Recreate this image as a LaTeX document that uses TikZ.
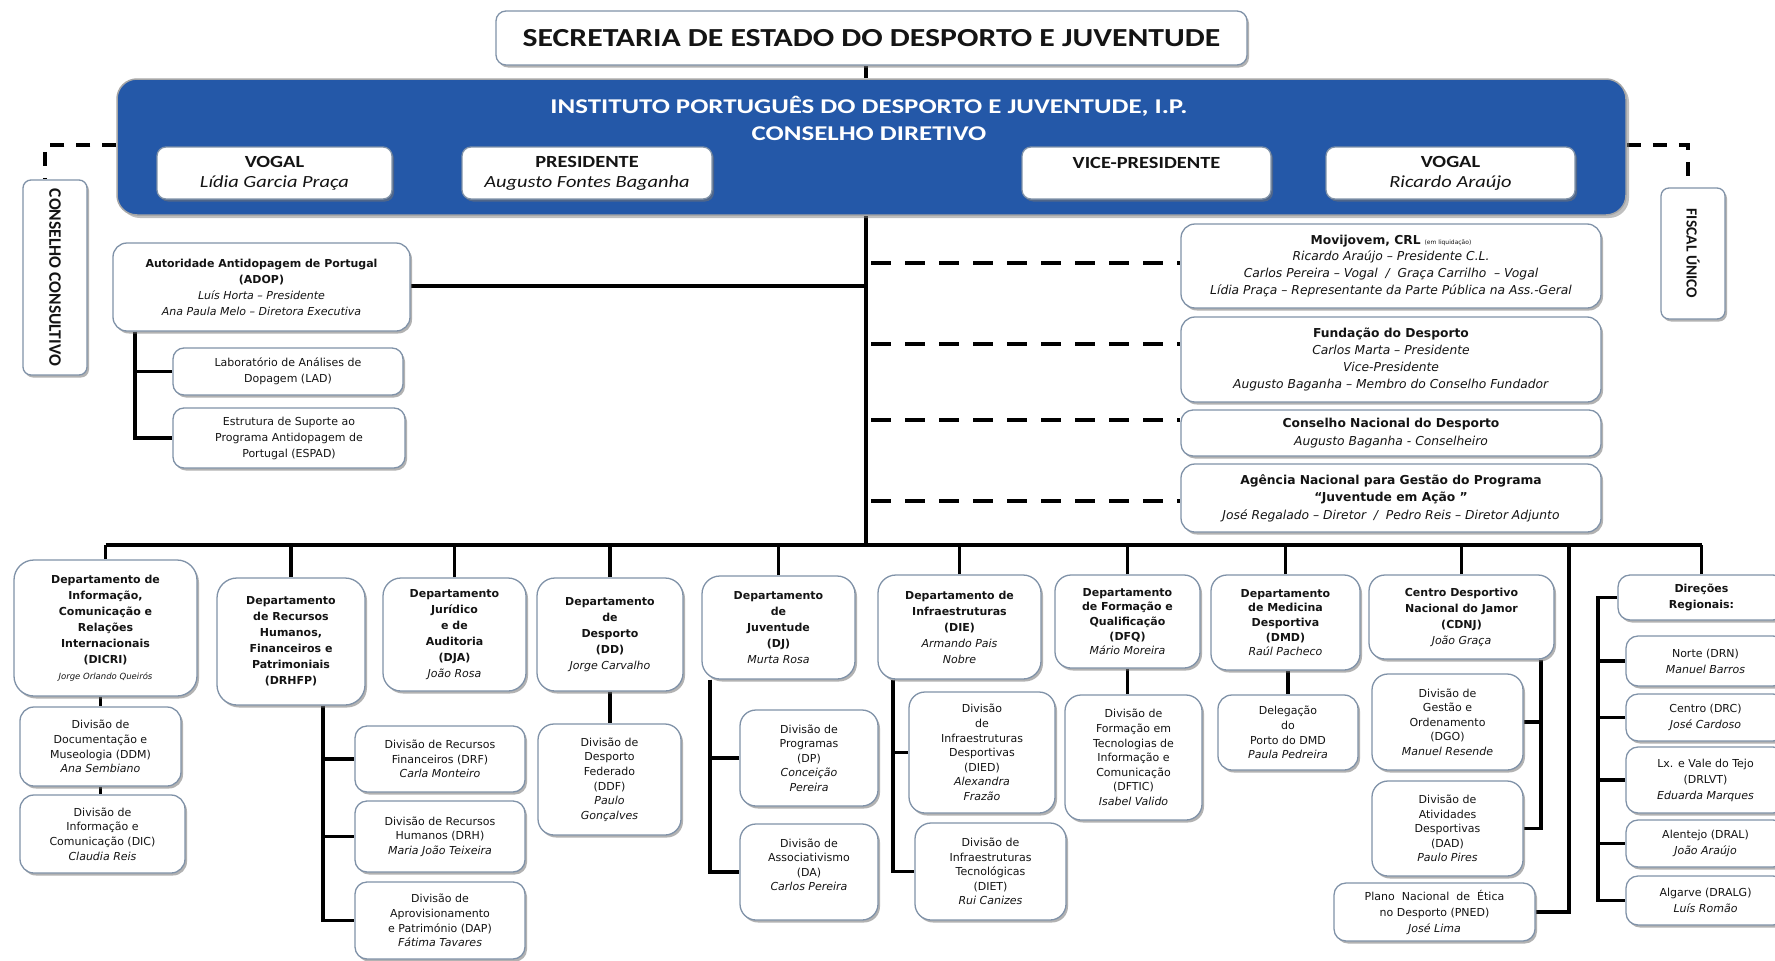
\documentclass[tikz,border=0pt]{standalone}
\usepackage{fontspec}
\usepackage{graphicx}
\setmainfont{Carlito}
\newfontfamily\dv{DejaVu Sans}
\usetikzlibrary{shadows}
\definecolor{bluemain}{RGB}{36,88,168}
\definecolor{bord}{RGB}{128,146,168}
\definecolor{txt}{RGB}{20,20,20}
\pgfdeclarelayer{back}
\pgfdeclarelayer{bg}
\pgfsetlayers{back,bg,main}
\tikzset{
  shad/.style={drop shadow={shadow xshift=2pt, shadow yshift=-2.5pt, fill=black!55, opacity=.55}},
  sbox/.style={draw=bord, line width=1.3pt, fill=white, rounded corners=11pt, align=center, inner sep=1pt, text=txt,
    font=\dv\fontsize{11}{16}\selectfont, shad},
  tight/.style={font=\dv\fontsize{11}{14.6}\selectfont},
  rcol/.style={font=\dv\fontsize{12.3}{16.8}\selectfont},
  bluebox/.style={draw=black!35, line width=1.5pt, fill=bluemain, rounded corners=20pt,
    drop shadow={shadow xshift=3pt, shadow yshift=-3pt, fill=black!50, opacity=.5}},
  wbox/.style={draw=bord, line width=1.3pt, fill=white, rounded corners=9pt, align=center, inner sep=1pt, text=txt,
    font=\fontsize{17}{20}\selectfont, shad},
  conn/.style={line width=3.2pt, black},
  dline/.style={line width=4pt, black, dash pattern=on 20pt off 14pt},
}
\newcommand\mybox[7]{\node[#1, minimum width={(#5)-(#3)}, minimum height={(#6)-(#4)}] (#2) at ({((#3)+(#5))/2},{((#4)+(#6))/2}) {#7};}
\newcommand\nm[1]{{\fontsize{8.5}{12}\selectfont\itshape #1}}
\newcommand\wx[1]{\scalebox{1.2}[1]{#1}}
\begin{document}
\begin{tikzpicture}[x=1pt,y=-1pt]
\begin{pgfonlayer}{back}
\fill[white] (0,0) rectangle (1775,961);
\end{pgfonlayer}
\useasboundingbox (0,0) rectangle (1775,961);

% top
\mybox{wbox,font=\bfseries\fontsize{26}{28}\selectfont,rounded corners=10pt}{sec}{496}{11}{1247}{65}{\scalebox{1.22}[1]{SECRETARIA DE ESTADO DO DESPORTO E JUVENTUDE}}
\mybox{bluebox}{blue}{117}{79}{1626}{215}{}
\node[text=white, font=\bfseries\fontsize{21}{27}\selectfont, align=center] (bt) at (869,118) {\scalebox{1.28}[1]{INSTITUTO PORTUGUÊS DO DESPORTO E JUVENTUDE, I.P.}\\\scalebox{1.28}[1]{CONSELHO DIRETIVO}};
\mybox{wbox}{vog1}{157}{147}{392}{199}{\wx{\textbf{VOGAL}}\\\wx{\textit{Lídia Garcia Praça}}}
\mybox{wbox}{pres}{462}{147}{712}{199}{\wx{\textbf{PRESIDENTE}}\\\wx{\textit{Augusto Fontes Baganha}}}
\mybox{wbox}{vice}{1022}{147}{1271}{199}{\wx{\textbf{VICE-PRESIDENTE}}\\\mbox{}}
\mybox{wbox}{vog2}{1326}{147}{1575}{199}{\wx{\textbf{VOGAL}}\\\wx{\textit{Ricardo Araújo}}}

% side boxes
\mybox{sbox,font=\bfseries\fontsize{17.5}{18}\selectfont,rounded corners=8pt}{cc}{23}{180}{87}{375}{\rotatebox{-90}{CONSELHO CONSULTIVO}}
\mybox{sbox,font=\bfseries\fontsize{15.5}{18}\selectfont,rounded corners=8pt}{fu}{1661}{188}{1725}{319}{\rotatebox{-90}{FISCAL ÚNICO}}

% ADOP
\mybox{sbox,rounded corners=14pt}{adop}{113}{243}{410}{331}{\textbf{Autoridade Antidopagem de Portugal}\\\textbf{(ADOP)}\\\textit{Luís Horta – Presidente}\\\textit{Ana Paula Melo – Diretora Executiva}}
\mybox{sbox}{lad}{173}{348}{403}{395}{Laboratório de Análises de\\Dopagem (LAD)}
\mybox{sbox}{espad}{173}{408}{405}{468}{Estrutura de Suporte ao\\Programa Antidopagem de\\Portugal (ESPAD)}

% right column
\mybox{sbox,rcol,rounded corners=14pt}{movi}{1181}{224}{1601}{308}{\textbf{Movijovem, CRL} {\fontsize{6}{7}\selectfont (em liquidação)}\\\textit{Ricardo Araújo – Presidente C.L.}\\\textit{Carlos Pereira – Vogal \ / \ Graça Carrilho \ – Vogal}\\\textit{Lídia Praça – Representante da Parte Pública na Ass.-Geral}}
\mybox{sbox,rcol,rounded corners=14pt}{fund}{1181}{317}{1601}{402}{\textbf{Fundação do Desporto}\\\textit{Carlos Marta – Presidente}\\\textit{Vice-Presidente}\\\textit{Augusto Baganha – Membro do Conselho Fundador}}
\mybox{sbox,rcol,font=\dv\fontsize{12.3}{17.5}\selectfont,rounded corners=12pt}{cnd}{1181}{410}{1601}{456}{\textbf{Conselho Nacional do Desporto}\\\textit{Augusto Baganha - Conselheiro}}
\mybox{sbox,rcol,font=\dv\fontsize{12.3}{17.5}\selectfont,rounded corners=14pt}{agen}{1181}{464}{1601}{532}{\textbf{Agência Nacional para Gestão do Programa}\\\textbf{“Juventude em Ação ”}\\\textit{José Regalado – Diretor \ / \ Pedro Reis – Diretor Adjunto}}

% departments
\mybox{sbox,rounded corners=20pt}{dicri}{14}{560}{197}{696}{\textbf{Departamento de}\\\textbf{Informação,}\\\textbf{Comunicação e}\\\textbf{Relações}\\\textbf{Internacionais}\\\textbf{(DICRI)}\\\nm{Jorge Orlando Queirós}}
\mybox{sbox,tight,rounded corners=14pt}{ddm}{20}{707}{181}{786}{Divisão de\\Documentação e\\Museologia (DDM)\\\textit{Ana Sembiano}}
\mybox{sbox,tight,rounded corners=14pt}{dic}{20}{795}{185}{873}{Divisão de\\Informação e\\Comunicação (DIC)\\\textit{Claudia Reis}}

\mybox{sbox,rounded corners=20pt}{drhfp}{217}{578}{365}{705}{\textbf{Departamento}\\\textbf{de Recursos}\\\textbf{Humanos,}\\\textbf{Financeiros e}\\\textbf{Patrimoniais}\\\textbf{(DRHFP)}}
\mybox{sbox,tight,rounded corners=12pt}{drf}{355}{726}{525}{792}{Divisão de Recursos\\Financeiros (DRF)\\\textit{Carla Monteiro}}
\mybox{sbox,tight,rounded corners=12pt}{drh}{355}{801}{525}{872}{Divisão de Recursos\\Humanos (DRH)\\\textit{Maria João Teixeira}}
\mybox{sbox,tight,rounded corners=12pt}{dap}{355}{882}{525}{959}{Divisão de\\Aprovisionamento\\e Património (DAP)\\\textit{Fátima Tavares}}

\mybox{sbox,rounded corners=18pt}{dja}{383}{578}{526}{691}{\textbf{Departamento}\\\textbf{Jurídico}\\\textbf{e de}\\\textbf{Auditoria}\\\textbf{(DJA)}\\\textit{João Rosa}}
\mybox{sbox,rounded corners=18pt}{dd}{537}{578}{683}{691}{\textbf{Departamento}\\\textbf{de}\\\textbf{Desporto}\\\textbf{(DD)}\\\textit{Jorge Carvalho}}
\mybox{sbox,tight,rounded corners=16pt}{ddf}{538}{724}{681}{835}{Divisão de\\Desporto\\Federado\\(DDF)\\\textit{Paulo}\\\textit{Gonçalves}}

\mybox{sbox,rounded corners=18pt}{dj}{702}{576}{855}{679}{\textbf{Departamento}\\\textbf{de}\\\textbf{Juventude}\\\textbf{(DJ)}\\\textit{Murta Rosa}}
\mybox{sbox,tight,rounded corners=16pt}{dp}{740}{710}{878}{806}{Divisão de\\Programas\\(DP)\\\textit{Conceição}\\\textit{Pereira}}
\mybox{sbox,tight,rounded corners=16pt}{da}{740}{824}{878}{920}{Divisão de\\Associativismo\\(DA)\\\textit{Carlos Pereira}\\\mbox{}}

\mybox{sbox,rounded corners=18pt}{die}{878}{575}{1041}{679}{\textbf{Departamento de}\\\textbf{Infraestruturas}\\\textbf{(DIE)}\\\textit{Armando Pais}\\\textit{Nobre}}
\mybox{sbox,tight,rounded corners=16pt}{died}{909}{692}{1055}{813}{Divisão\\de\\Infraestruturas\\Desportivas\\(DIED)\\\textit{Alexandra}\\\textit{Frazão}}
\mybox{sbox,tight,rounded corners=16pt}{diet}{915}{823}{1066}{920}{Divisão de\\Infraestruturas\\Tecnológicas\\(DIET)\\\textit{Rui Canizes}}

\mybox{sbox,tight,rounded corners=16pt}{dfq}{1055}{575}{1200}{668}{\textbf{Departamento}\\\textbf{de Formação e}\\\textbf{Qualificação}\\\textbf{(DFQ)}\\\textit{Mário Moreira}}
\mybox{sbox,tight,rounded corners=16pt}{dftic}{1065}{695}{1202}{820}{Divisão de\\Formação em\\Tecnologias de\\Informação e\\Comunicação\\(DFTIC)\\\textit{Isabel Valido}}

\mybox{sbox,tight,rounded corners=16pt}{dmd}{1211}{575}{1360}{670}{\textbf{Departamento}\\\textbf{de Medicina}\\\textbf{Desportiva}\\\textbf{(DMD)}\\\textit{Raúl Pacheco}}
\mybox{sbox,tight,rounded corners=14pt}{dele}{1218}{695}{1358}{770}{Delegação\\do\\Porto do DMD\\\textit{Paula Pedreira}}

\mybox{sbox,rounded corners=16pt}{cdnj}{1369}{575}{1554}{659}{\textbf{Centro Desportivo}\\\textbf{Nacional do Jamor}\\\textbf{(CDNJ)}\\\textit{João Graça}}
\mybox{sbox,tight,rounded corners=16pt}{dgo}{1372}{674}{1523}{770}{Divisão de\\Gestão e\\Ordenamento\\(DGO)\\\textit{Manuel Resende}}
\mybox{sbox,tight,rounded corners=16pt}{dad}{1372}{781}{1523}{876}{Divisão de\\Atividades\\Desportivas\\(DAD)\\\textit{Paulo Pires}}
\mybox{sbox,rounded corners=12pt}{pned}{1334}{883}{1535}{941}{Plano \ Nacional \ de \ Ética\\no Desporto (PNED)\\\textit{José Lima}}

\mybox{sbox,rounded corners=12pt}{dir}{1618}{575}{1785}{620}{\textbf{Direções}\\\textbf{Regionais:}}
\mybox{sbox,rounded corners=12pt}{norte}{1626}{636}{1785}{686}{Norte (DRN)\\\textit{Manuel Barros}}
\mybox{sbox,rounded corners=12pt}{centro}{1626}{694}{1785}{741}{Centro (DRC)\\\textit{José Cardoso}}
\mybox{sbox,rounded corners=12pt}{lx}{1626}{747}{1785}{813}{Lx. e Vale do Tejo\\(DRLVT)\\\textit{Eduarda Marques}}
\mybox{sbox,rounded corners=12pt}{alen}{1626}{820}{1785}{867}{Alentejo (DRAL)\\\textit{João Araújo}}
\mybox{sbox,rounded corners=12pt}{alg}{1626}{876}{1785}{925}{Algarve (DRALG)\\\textit{Luís Romão}}

% coordinates
\coordinate (mx) at (866,0);
\coordinate (bus) at (866,545);
\coordinate (a1) at (866,286);
\coordinate (d1) at (871,263);
\coordinate (d2) at (871,344);
\coordinate (d3) at (871,420);
\coordinate (d4) at (871,501);
\coordinate (ccx) at (45,145);
\coordinate (fcx) at (1688,145);
\coordinate (adx) at (135,0);
\coordinate (rx) at (323,0);
\coordinate (jx) at (710,0);
\coordinate (ex) at (893,0);
\coordinate (cx) at (1541,0);
\coordinate (px) at (1569,545);
\coordinate (dx) at (1598,0);

\begin{pgfonlayer}{bg}
\draw[conn] (sec.south -| mx) -- (blue.north -| mx);
\draw[conn] (blue.south -| mx) -- (bus);
\draw[conn] (dicri.north |- bus) -- (dir.north |- bus);
\foreach \n in {dicri,drhfp,dja,dd,dj,die,dfq,dmd,cdnj,dir}
  \draw[conn] (\n.north) -- (\n.north |- bus);
\draw[conn] (a1) -- (a1 -| adop.east);
\draw[dline] (d1) -- (d1 -| movi.west);
\draw[dline] (d2) -- (d2 -| fund.west);
\draw[dline] (d3) -- (d3 -| cnd.west);
\draw[dline] (d4) -- (d4 -| agen.west);
\draw[dline, line width=3.5pt, dash pattern=on 14pt off 12pt] (ccx -| blue.west) -- (ccx) -- (ccx |- cc.north);
\draw[dline, line width=3.5pt, dash pattern=on 14pt off 12pt] (fcx -| blue.east) -- (fcx) -- (fcx |- fu.north);
\draw[conn] (adop.south -| adx) |- (espad.west);
\draw[conn] (adop.south -| adx) |- (lad.west);
\draw[conn] (ddm.north |- dicri.south) -- (ddm.north);
\draw[conn] (ddm.south) -- (ddm.south |- dic.north);
\draw[conn] (drhfp.south -| rx) |- (dap.west);
\draw[conn] (drhfp.south -| rx) |- (drf.west);
\draw[conn] (drhfp.south -| rx) |- (drh.west);
\draw[conn] (dd.south) -- (dd.south |- ddf.north);
\draw[conn] (dj.south -| jx) |- (da.west);
\draw[conn] (dj.south -| jx) |- (dp.west);
\draw[conn] (die.south -| ex) |- (diet.west);
\draw[conn] (die.south -| ex) |- (died.west);
\draw[conn] (dfq.south) -- (dfq.south |- dftic.north);
\draw[conn] (dmd.south -| dele.north) -- (dele.north);
\draw[conn] (cdnj.south -| cx) |- (dad.east);
\draw[conn] (cdnj.south -| cx) |- (dgo.east);
\draw[conn] (px) |- (pned.east);
\draw[conn] (dir.west) -- (dir.west -| dx) -- (dx |- alg.west) -- (alg.west);
\foreach \n in {norte,centro,lx,alen}
  \draw[conn] (dx |- \n.west) -- (\n.west);
\end{pgfonlayer}
\end{tikzpicture}
\end{document}
